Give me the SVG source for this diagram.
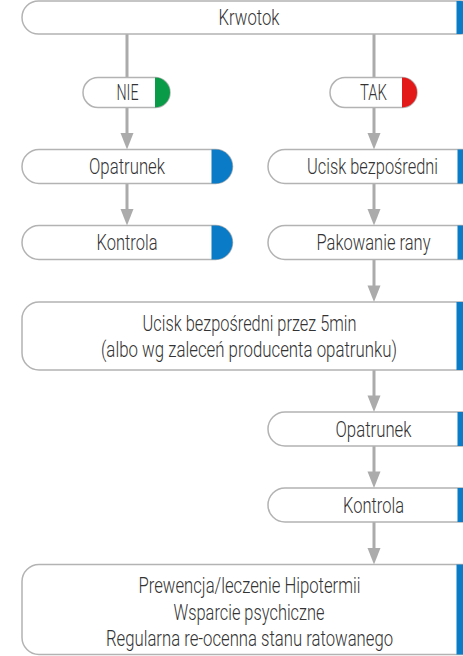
<svg xmlns="http://www.w3.org/2000/svg" width="463" height="656" viewBox="0 0 463 656">
<style>
.box{fill:#fff;stroke:#b3b3b3;stroke-width:1.5}
.blue{fill:#0a7bc6}
.lbl{font-family:Roboto,"Liberation Sans",sans-serif;font-weight:300;font-size:21.5px;fill:#333;text-anchor:middle}
.ln{stroke:#ababab;stroke-width:3;fill:none}
.ah{fill:#ababab}
</style>
<rect width="463" height="656" fill="#fff"/>
<g id="connectors">
<line class="ln" x1="127" y1="34" x2="127" y2="78"/>
<line class="ln" x1="374" y1="34" x2="374" y2="78"/>
<line class="ln" x1="127" y1="107" x2="127" y2="136"/><polygon class="ah" points="120.5,133 133.5,133 127,149.5"/>
<line class="ln" x1="127" y1="183" x2="127" y2="212"/><polygon class="ah" points="120.5,209 133.5,209 127,225.5"/>
<line class="ln" x1="374" y1="107" x2="374" y2="136"/><polygon class="ah" points="367.5,133 380.5,133 374,149.5"/>
<line class="ln" x1="374" y1="183" x2="374" y2="212"/><polygon class="ah" points="367.5,209 380.5,209 374,225.5"/>
<line class="ln" x1="374" y1="259" x2="374" y2="288"/><polygon class="ah" points="367.5,285.5 380.5,285.5 374,302"/>
<line class="ln" x1="374" y1="370" x2="374" y2="399"/><polygon class="ah" points="367.5,395.5 380.5,395.5 374,412"/>
<line class="ln" x1="374" y1="446" x2="374" y2="475"/><polygon class="ah" points="367.5,471.5 380.5,471.5 374,488"/>
<line class="ln" x1="374" y1="522" x2="374" y2="551"/><polygon class="ah" points="367.5,548 380.5,548 374,564.5"/>
</g>
<g id="krwotok">
<rect class="box" x="22" y="1" width="455" height="33" rx="16.5"/>
<path class="blue" d="M456.5,1 H460.5 A16.5,16.5 0 0 1 460.5,34 H456.5 Z"/>
<text class="lbl" transform="translate(249,25) scale(0.75,1)" textLength="81.3" lengthAdjust="spacingAndGlyphs">Krwotok</text>
</g>
<g id="nie">
<rect class="box" x="83" y="77.5" width="87" height="30" rx="15"/>
<path d="M155,77.5 A15,15 0 0 1 155,107.5 Z" fill="#0a9b48"/>
<text class="lbl" transform="translate(127.5,100) scale(0.75,1)" textLength="29.3" lengthAdjust="spacingAndGlyphs">NIE</text>
</g>
<g id="tak">
<rect class="box" x="330" y="77.5" width="87" height="30" rx="15"/>
<path d="M402,77.5 A15,15 0 0 1 402,107.5 Z" fill="#e31919"/>
<text class="lbl" transform="translate(373.5,100) scale(0.75,1)" textLength="36" lengthAdjust="spacingAndGlyphs">TAK</text>
</g>
<g id="opatrunek1">
<rect class="box" x="22" y="149.5" width="210.5" height="34" rx="17"/>
<path class="blue" d="M211.5,149.5 H215.5 A17,17 0 0 1 215.5,183.5 H211.5 Z"/>
<text class="lbl" transform="translate(127,174) scale(0.75,1)" textLength="101.3" lengthAdjust="spacingAndGlyphs">Opatrunek</text>
</g>
<g id="kontrola1">
<rect class="box" x="22" y="225.5" width="210.5" height="34" rx="17"/>
<path class="blue" d="M211.5,225.5 H215.5 A17,17 0 0 1 215.5,259.5 H211.5 Z"/>
<text class="lbl" transform="translate(127,250) scale(0.75,1)" textLength="81.3" lengthAdjust="spacingAndGlyphs">Kontrola</text>
</g>
<g id="ucisk">
<rect class="box" x="268" y="149.5" width="210.5" height="34" rx="17"/>
<path class="blue" d="M457.5,149.5 H461.5 A17,17 0 0 1 461.5,183.5 H457.5 Z"/>
<text class="lbl" transform="translate(372.5,174) scale(0.75,1)" textLength="174.7" lengthAdjust="spacingAndGlyphs">Ucisk bezpośredni</text>
</g>
<g id="pakowanie">
<rect class="box" x="268" y="225.5" width="210.5" height="34" rx="17"/>
<path class="blue" d="M457.5,225.5 H461.5 A17,17 0 0 1 461.5,259.5 H457.5 Z"/>
<text class="lbl" transform="translate(373.5,250) scale(0.75,1)" textLength="152" lengthAdjust="spacingAndGlyphs">Pakowanie rany</text>
</g>
<g id="ucisk5min">
<rect class="box" x="22" y="302" width="456" height="68" rx="17"/>
<path class="blue" d="M456.5,302 H461 A17,17 0 0 1 478,319 V353 A17,17 0 0 1 461,370 H456.5 Z"/>
<text class="lbl" transform="translate(249.5,331) scale(0.75,1)" textLength="285.3" lengthAdjust="spacingAndGlyphs">Ucisk bezpośredni przez 5min</text>
<text class="lbl" transform="translate(249,356.5) scale(0.75,1)" textLength="394.7" lengthAdjust="spacingAndGlyphs">(albo wg zaleceń producenta opatrunku)</text>
</g>
<g id="opatrunek2">
<rect class="box" x="268" y="412" width="210.5" height="34" rx="17"/>
<path class="blue" d="M457.5,412 H461.5 A17,17 0 0 1 461.5,446 H457.5 Z"/>
<text class="lbl" transform="translate(373.5,436.5) scale(0.75,1)" textLength="101.3" lengthAdjust="spacingAndGlyphs">Opatrunek</text>
</g>
<g id="kontrola2">
<rect class="box" x="268" y="488" width="210.5" height="34" rx="17"/>
<path class="blue" d="M457.5,488 H461.5 A17,17 0 0 1 461.5,522 H457.5 Z"/>
<text class="lbl" transform="translate(373.5,512.5) scale(0.75,1)" textLength="81.3" lengthAdjust="spacingAndGlyphs">Kontrola</text>
</g>
<g id="koncowe">
<rect class="box" x="22" y="564.5" width="456" height="90" rx="17"/>
<path class="blue" d="M456.5,564.5 H461 A17,17 0 0 1 478,581.5 V637.5 A17,17 0 0 1 461,654.5 H456.5 Z"/>
<text class="lbl" transform="translate(249.5,593) scale(0.75,1)" textLength="296" lengthAdjust="spacingAndGlyphs">Prewencja/leczenie Hipotermii</text>
<text class="lbl" transform="translate(249,619.5) scale(0.75,1)" textLength="201.3" lengthAdjust="spacingAndGlyphs">Wsparcie psychiczne</text>
<text class="lbl" transform="translate(249.5,645.5) scale(0.75,1)" textLength="382.7" lengthAdjust="spacingAndGlyphs">Regularna re-ocenna stanu ratowanego</text>
</g>
</svg>
